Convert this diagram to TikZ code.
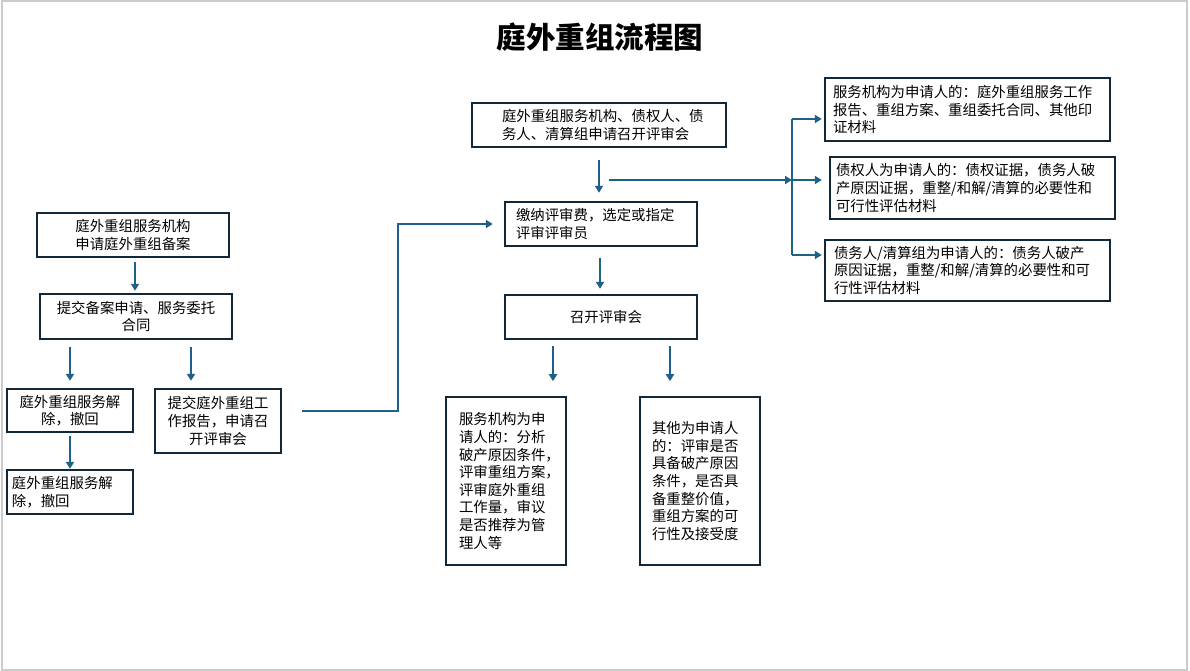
\documentclass[tikz,border=0pt]{standalone}
\usepackage{fontspec}
\setmainfont{Noto Sans CJK SC}
\usetikzlibrary{arrows.meta,calc}
\definecolor{boxc}{HTML}{10283A}
\definecolor{arrc}{HTML}{1F6088}
\begin{document}
\begin{tikzpicture}[x=1pt,y=-1pt,
  bx/.style={draw=boxc,line width=2.4pt,inner ysep=0pt,
    font=\fontsize{14.4}{17.6}\selectfont},
  cbox/.style={bx,align=center,inner xsep=2pt},
  lbox/.style={bx,align=left,inner xsep=#1},
  arr/.style={draw=arrc,line width=1.8pt,-{Triangle[length=7pt,width=8pt]}},
  ln/.style={draw=arrc,line width=1.8pt}]
\fill[white] (0,0) rectangle (1190,671);
\useasboundingbox (0,0) rectangle (1190,671);
\draw[black!20,line width=2pt] (1.5,1.5) rectangle (1187,669.5);

\node[font=\fontsize{29.5}{30}\selectfont\bfseries] (title) at (600,37) {庭外重组流程图};

% left column
\node[cbox,minimum width=192,minimum height=44,text width=188] (A) at (133,235)
  {庭外重组服务机构\\申请庭外重组备案};
\node[cbox,minimum width=192,minimum height=45,text width=188] (B) at (136,316.5)
  {提交备案申请、服务委托\\合同};
\node[cbox,minimum width=126,minimum height=43,text width=122] (C) at (70,410.5)
  {庭外重组服务解\\除，撤回};
\node[cbox,minimum width=126,minimum height=64,text width=122] (D) at (218,421)
  {提交庭外重组工\\作报告，申请召\\开评审会};
\node[lbox=5pt,minimum width=126,minimum height=44,text width=116] (E) at (70,492)
  {庭外重组服务解\\除，撤回};

% middle column
\node[lbox=30pt,minimum width=254,minimum height=44,text width=194] (F) at (599,125)
  {庭外重组服务机构、债权人、债\\务人、清算组申请召开评审会};
\node[lbox=11pt,minimum width=192,minimum height=44,text width=170] (G) at (601,224)
  {缴纳评审费，选定或指定\\评审评审员};
\node[cbox,minimum width=192,minimum height=44,text width=188] (I) at (601,317)
  {\hspace*{10pt}召开评审会};
\node[lbox=13pt,minimum width=120,minimum height=168,text width=94] (J) at (506,481)
  {服务机构为申\\请人的：分析\\破产原因条件\makebox[0pt][l]{，}\\评审重组方案\makebox[0pt][l]{，}\\评审庭外重组\\工作量，审议\\是否推荐为管\\理人等};
\node[lbox=12pt,minimum width=120,minimum height=168,text width=96] (K) at (700,481)
  {其他为申请人\\的：评审是否\\具备破产原因\\条件，是否具\\备重整价值，\\重组方案的可\\行性及接受度};

% right column
\node[lbox=8pt,minimum width=285,minimum height=63,text width=269] (H1) at (967.5,109.5)
  {服务机构为申请人的：庭外重组服务工作\\报告、重组方案、重组委托合同、其他印\\证材料};
\node[lbox=6pt,minimum width=285,minimum height=62,text width=273] (H2) at (972.5,188)
  {债权人为申请人的：债权证据，债务人破\\产原因证据，重整/和解/清算的必要性和\\可行性评估材料};
\node[lbox=9pt,minimum width=285,minimum height=61,text width=267] (H3) at (967.5,270.5)
  {债务人/清算组为申请人的：债务人破产\\原因证据，重整/和解/清算的必要性和可\\行性评估材料};

% connectors, left
\draw[arr] ($(A.south)+(2,4)$) -- ($(A.south |- B.north)+(2,-2)$);
\draw[arr] ($(B.south -| C.north)+(0,7)$) -- ($(C.north)+(0,-7)$);
\draw[arr] ($(B.south)+(55,7)$) -- ($(D.north)+(-27,-7)$);
\draw[arr] ($(C.south)+(0,3)$) -- (E.north);

% D to G
\coordinate (d1) at ($(D.east)+(20,-10)$);
\draw[arr] (d1) -- ++(96,0) |- ($(G.west)+(-11,0)$);

% middle
\draw[arr] ($(F.south)+(0,12)$) -- ($(F.south |- G.north)+(0,-8)$);
\draw[arr] ($(G.south)+(-1,11)$) -- ($(I.north)+(-1,-5)$);
\draw[arr] ($(I.south)+(-48,6)$) -- ($(I.south)+(-48,41)$);
\draw[arr] ($(I.south)+(69,6)$) -- ($(I.south)+(69,41)$);

% to right column
\coordinate (bus) at (792,180);
\coordinate (s0) at ($(F.south)+(10,0)$);
\coordinate (s) at (s0 |- bus);
\coordinate (b1) at (792,119);
\coordinate (b3) at (792,255);
\draw[arr] (s) -- (bus);
\draw[ln] (b1) -- (b3);
\draw[arr] (b1) -- ($(b1 -| H1.west)+(-2,0)$);
\draw[arr] (bus) -- ($(bus -| H2.west)+(-7,0)$);
\draw[arr] (b3) -- ($(b3 -| H3.west)+(-2,0)$);
\end{tikzpicture}
\end{document}
